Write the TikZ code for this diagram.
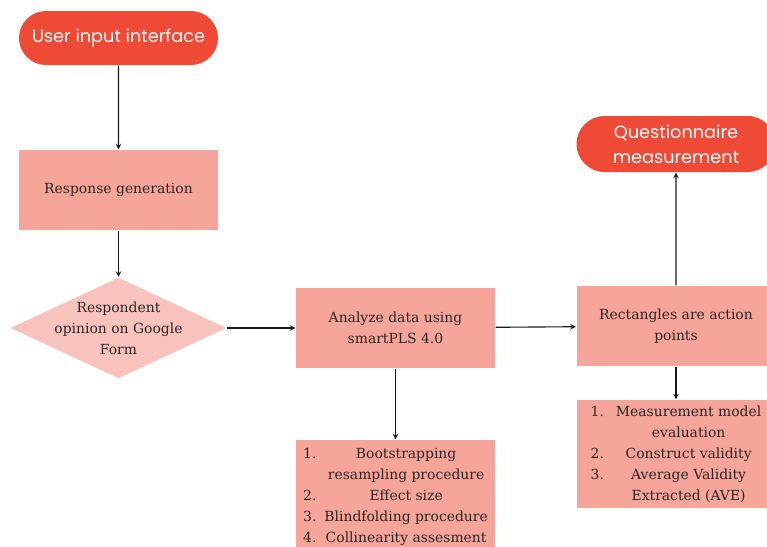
\documentclass[tikz,border=0pt]{standalone}
\usepackage{fontspec}
\setmainfont{DejaVu Serif}
\newfontfamily\pillfont{Poppins}
\usetikzlibrary{shapes.geometric,shapes.misc}
\definecolor{pillred}{HTML}{EF4A36}
\definecolor{boxpink}{HTML}{F6A59A}
\definecolor{diapink}{HTML}{F9C3BD}
\definecolor{inkgray}{HTML}{2B2424}

\begin{document}
\begin{tikzpicture}[->,>=stealth,line width=0.8pt,draw=black!90]
	\tikzstyle{pill}=[rounded rectangle,fill=pillred,text=white,align=center,inner sep=0pt,
		font=\pillfont\fontsize{12.6}{17.8}\selectfont,minimum width=4.975cm]
	\tikzstyle{act}=[rectangle,fill=boxpink,text=inkgray,align=center,inner sep=0pt,
		font=\fontsize{9.9}{14.9}\selectfont,minimum width=4.975cm,minimum height=2cm]
	\tikzstyle{ask}=[diamond,fill=diapink,inner sep=0pt,minimum width=5.4cm,minimum height=2.525cm]
	\tikzstyle{asktext}=[text=inkgray,align=center,font=\fontsize{9.9}{14.9}\selectfont]

	\def \mainrow{-8.2cm}
	\def \leftcol{2.9625cm}
	\def \midcol{9.8875cm}
	\def \rightcol{16.9cm}

	\clip (0,0) rectangle (19.175,-13.65);

	\node[pill,minimum height=1.35cm]	(ui)	at (\leftcol,-0.95cm)	{User input interface};
	\node[act]	(rg)	at (\leftcol,-4.75cm)	{Response generation};
	\node[ask]	(op)	at (\leftcol,\mainrow)	{};
	\node[asktext]	(op-text)	at (op)	{Respondent\\opinion on Google\\Form};

	\node[act]	(az)	at (\midcol,\mainrow)	{Analyze data using\\smartPLS 4.0};
	\node[act,minimum height=2.8cm]	(az-list)	at (\midcol,-12.4cm)	{%
		\begin{tabular}{@{}l@{\hspace{0.2cm}}c@{}}
		1. & Bootstrapping\\
		   & resampling procedure\\
		2. & Effect size\\
		3. & Blindfolding procedure\\
		4. & Collinearity assesment
		\end{tabular}};

	\node[act]	(ap)	at (\rightcol,-8.15cm)	{Rectangles are action\\points};
	\node[pill,minimum height=1.4cm]	(qm)	at (\rightcol,-3.6cm)	{Questionnaire\\measurement};
	\node[act,minimum height=2.7cm]	(ap-list)	at (\rightcol,-11.35cm)	{%
		\begin{tabular}{@{}l@{\hspace{0.3cm}}c@{}}
		1. & Measurement model\\
		   & evaluation\\
		2. & Construct validity\\
		3. & Average Validity\\
		   & Extracted (AVE)
		\end{tabular}};

	\draw (ui) -- (rg);
	\draw (rg) -- (op);
	\draw (op) -- (az);
	\draw (az) -- (az-list);
	\draw (az) -- (ap);
	\draw (ap) -- (qm);
	\draw (ap) -- (ap-list);
\end{tikzpicture}
\end{document}
